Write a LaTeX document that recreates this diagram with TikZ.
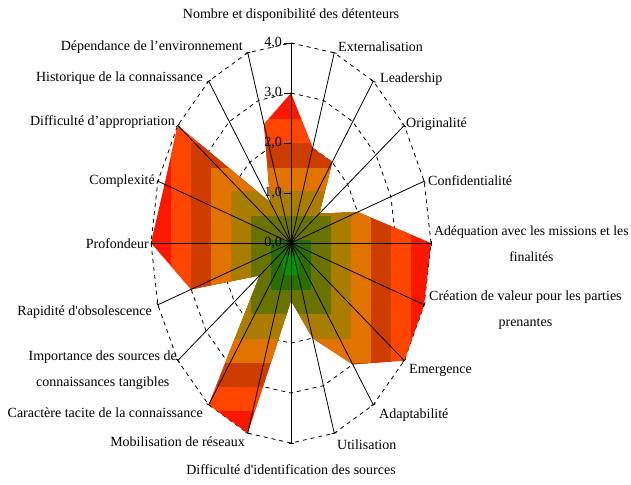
\documentclass[tikz,border=0pt]{standalone}
\usepackage{fontspec}
\usetikzlibrary{calc}
\newfontfamily\labfont{Liberation Serif}
\definecolor{bandG}{RGB}{250,25,0}
\definecolor{bandF}{RGB}{255,70,0}
\definecolor{bandE}{RGB}{205,60,0}
\definecolor{bandD}{RGB}{225,115,0}
\definecolor{bandC}{RGB}{170,125,0}
\definecolor{bandB}{RGB}{105,115,0}
\definecolor{bandA}{RGB}{40,110,0}
\definecolor{bandZ}{RGB}{0,150,0}
\begin{document}
\begin{tikzpicture}[x=1pt,y=-1pt,
  lab/.style={font=\labfont\fontsize{14}{26}\selectfont, inner sep=0pt, align=center},
  gridline/.style={black, line width=0.8pt, dash pattern=on 4pt off 4pt},
  axisline/.style={black, line width=0.8pt},
  chart/.style={shift={(291,243)}, x=35pt, y=50pt}]
\useasboundingbox (0,0) rectangle (631,484);
\fill[white] (0,0) rectangle (631,484);

% grid
\begin{scope}[chart]
  \coordinate (O) at (0,0);
  \foreach \k in {0,...,19} \coordinate (a\k) at ({90-18*\k}:4);
  \foreach \l in {1,2,3,4}
    \draw[gridline] (90:\l) \foreach \k in {1,...,19} {-- ({90-18*\k}:\l)} -- cycle;
\end{scope}

% filled data polygon with banded gradient
\begin{scope}
  \clip[chart] (90:3) -- (72:2) -- (54:2) -- (36:1) -- (18:2) -- (0:4)
    -- (-18:4) -- (-36:4) -- (-54:3) -- (-72:2) -- (-90:1.15) -- (-108:4)
    -- (-126:4) -- (-144:1.1) -- (-162:3) -- (180:4) -- (162:3.8) -- (144:4)
    -- (126:1) -- (108:2.5) -- cycle;
  \fill[bandG] (140,80) rectangle (440,450);
  \fill[bandF] (171,118.6) rectangle (411,411.4);
  \fill[bandE] (191,142.9) rectangle (391,387.1);
  \fill[bandD] (211,167.9) rectangle (371,363.1);
  \fill[bandC] (231,191.3) rectangle (351,338.7);
  \fill[bandB] (251,215.9) rectangle (331,314.1);
  \fill[bandA] (271,240.4) rectangle (311,289.6);
  \fill[bandZ] (283,255) rectangle (299,275);
\end{scope}

% value axis labels and ticks
\foreach \l in {0,...,4} {
  \draw[axisline] (284,{243-50*\l}) -- (291,{243-50*\l});
  \node[lab, anchor=east] (v\l) at (282,{243-50*\l}) {\l,0};
}

% axes
\foreach \k in {0,...,19} {
  \draw[axisline] (O) -- (a\k);
  \draw[axisline] ($(a\k)!2.5pt!90:(O)$) -- ($(a\k)!2.5pt!-90:(O)$);
}

% category labels
\node[lab] (l0) at (291,15) {Nombre et disponibilité des détenteurs};
\node[lab, anchor=west] (l1) at (338,47) {Externalisation};
\node[lab, anchor=west] (l2) at (380,79) {Leadership};
\node[lab, anchor=west] (l3) at (406,124) {Originalité};
\node[lab, anchor=west] (l4) at (428,181) {Confidentialité};
\node[lab, anchor=west, font=\labfont\fontsize{13.7}{26}\selectfont] (l5) at (434,244) {Adéquation avec les missions et les\\finalités};
\node[lab, anchor=west] (l6) at (429,310) {Création de valeur pour les parties\\prenantes};
\node[lab, anchor=west] (l7) at (409,370) {Emergence};
\node[lab, anchor=west] (l8) at (379,415) {Adaptabilité};
\node[lab, anchor=west] (l9) at (337,445) {Utilisation};
\node[lab] (l10) at (291,470) {Difficulté d'identification des sources};
\node[lab, anchor=east] (l11) at (245,442) {Mobilisation de réseaux};
\node[lab, anchor=east] (l12) at (203,413) {Caractère tacite de la connaissance};
\node[lab, anchor=east] (l13) at (177,370) {Importance des sources de\\connaissances tangibles};
\node[lab, anchor=east] (l14) at (152,312) {Rapidité d'obsolescence};
\node[lab, anchor=east] (l15) at (149,244) {Profondeur};
\node[lab, anchor=east] (l16) at (155,181) {Complexité};
\node[lab, anchor=east] (l17) at (175,122) {Difficulté d’appropriation};
\node[lab, anchor=east] (l18) at (203,78) {Historique de la connaissance};
\node[lab, anchor=east] (l19) at (243,47) {Dépendance de l’environnement};
\end{tikzpicture}
\end{document}
